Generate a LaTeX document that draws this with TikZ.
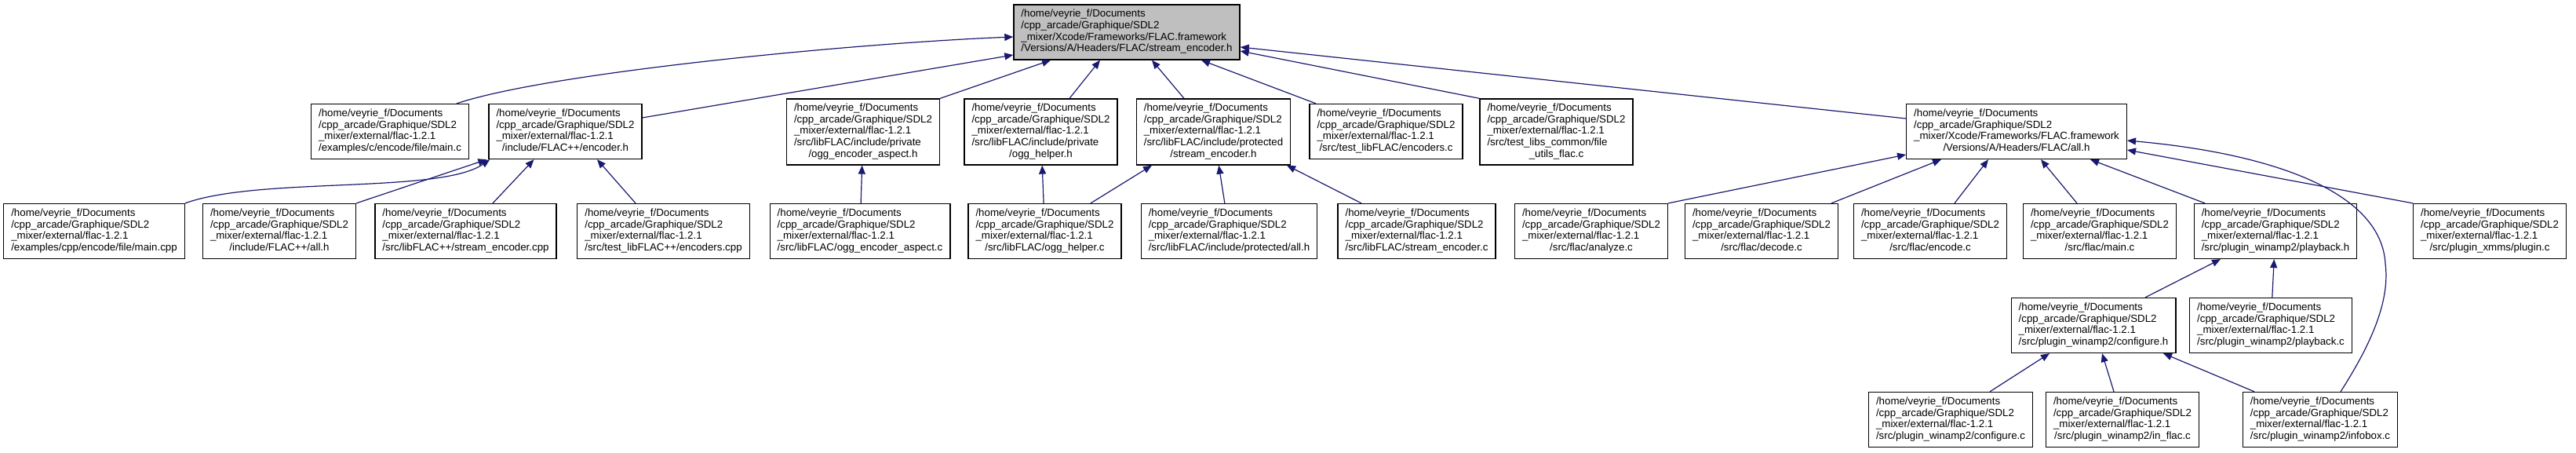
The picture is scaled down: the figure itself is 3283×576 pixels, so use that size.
\documentclass[tikz,border=0pt]{standalone}
\usepackage{fontspec}
\setmainfont{Liberation Sans}
\usetikzlibrary{arrows.meta}
\definecolor{Navy}{HTML}{191970}
\definecolor{Current}{HTML}{BFBFBF}
\newcommand\pathlines[2]{\begin{tabular}{@{}l@{}}/home/veyrie\_f/Documents\\/cpp\_arcade/Graphique/SDL2\\#1\\\multicolumn{1}{@{}c@{}}{#2}\end{tabular}}
\newcommand\flac{\_mixer/external/flac-1.2.1}
\newcommand\xcode{\_mixer/Xcode/Frameworks/FLAC.framework}
\tikzset{
 filebox/.style={draw=black,line width=1.3pt,fill=white,font=\fontsize{13.3}{14.7}\selectfont,inner xsep=9.5pt,inner ysep=0pt,minimum height=70pt},
 filetall/.style={filebox,minimum height=84pt},
 curbox/.style={filebox,fill=Current},
 inc/.style={-{Triangle[length=11pt,width=9pt]},line width=1.2pt,draw=Navy}
}
\begin{document}
\begin{tikzpicture}[x=1pt,y=1pt]
\useasboundingbox (0,0) rectangle (3283,576);
\node[curbox] (main) at (1436,535) {\pathlines{\xcode}{/Versions/A/Headers/FLAC/stream\_encoder.h}};
\node[filebox] (mainc) at (497,408.5) {\pathlines{\flac}{/examples/c/encode/file/main.c}};
\node[filebox] (encoderh) at (720.5,408.5) {\pathlines{\flac}{/include/FLAC++/encoder.h}};
\node[filetall] (oggasph) at (1100,408) {\pathlines{\flac\\/src/libFLAC/include/private}{/ogg\_encoder\_aspect.h}};
\node[filetall] (ogghelperh) at (1326.5,408) {\pathlines{\flac\\/src/libFLAC/include/private}{/ogg\_helper.h}};
\node[filetall] (protench) at (1546.5,408) {\pathlines{\flac\\/src/libFLAC/include/protected}{/stream\_encoder.h}};
\node[filebox] (encodersc) at (1766.5,408.5) {\pathlines{\flac}{/src/test\_libFLAC/encoders.c}};
\node[filetall] (fileutils) at (1983.5,408) {\pathlines{\flac\\/src/test\_libs\_common/file}{\_utils\_flac.c}};
\node[filebox] (allh) at (2570,408.5) {\pathlines{\xcode}{/Versions/A/Headers/FLAC/all.h}};
\foreach \name/\x/\last in {maincpp/120/{/examples/cpp/encode/file/main.cpp},cppallh/356/{/include/FLAC++/all.h},
 cppstreamenc/593.5/{/src/libFLAC++/stream\_encoder.cpp},cppencoders/845.5/{/src/test\_libFLAC++/encoders.cpp},
 oggaspc/1096/{/src/libFLAC/ogg\_encoder\_aspect.c},ogghelperc/1331.5/{/src/libFLAC/ogg\_helper.c},
 protallh/1566.5/{/src/libFLAC/include/protected/all.h},streamencc/1805.5/{/src/libFLAC/stream\_encoder.c},
 analyzec/2028/{/src/flac/analyze.c},decodec/2245/{/src/flac/decode.c},encodec/2460/{/src/flac/encode.c},
 flacmainc/2676/{/src/flac/main.c},playbackh/2900/{/src/plugin\_winamp2/playback.h},pluginc/3173/{/src/plugin\_xmms/plugin.c}}
 \node[filebox] (\name) at (\x,281.5) {\pathlines{\flac}{\last}};
\node[filebox] (configureh) at (2668,161.5) {\pathlines{\flac}{/src/plugin\_winamp2/configure.h}};
\node[filebox] (playbackc) at (2894,161.5) {\pathlines{\flac}{/src/plugin\_winamp2/playback.c}};
\foreach \name/\x/\last in {configurec/2486/{/src/plugin\_winamp2/configure.c},inflacc/2705/{/src/plugin\_winamp2/in\_flac.c},
 infoboxc/2957/{/src/plugin\_winamp2/infobox.c}}
 \node[filebox] (\name) at (\x,41.5) {\pathlines{\flac}{\last}};

\draw[inc] ([xshift=-16pt]mainc.north east) .. controls +(120,40) and +(-200,-8) .. ([yshift=-6pt]main.west);
\draw[inc] ([yshift=17.5pt]encoderh.east) -- ([yshift=-29pt]main.west);
\draw[inc] (oggasph.north east) -- ([xshift=-97pt]main.south);
\draw[inc] ([xshift=36.5pt]ogghelperh.north) -- ([xshift=-34pt]main.south);
\draw[inc] ([xshift=-37.5pt]protench.north) -- ([xshift=32pt]main.south);
\draw[inc] ([xshift=-89.5pt]encodersc.north) -- ([xshift=95pt]main.south);
\draw[inc] (fileutils.north west) -- ([yshift=-24pt]main.east);
\draw[inc] ([yshift=16.5pt]allh.west) -- ([yshift=-19pt]main.east);

\draw[inc] (maincpp.north east) .. controls +(95,34) and +(-64,-44) .. ([xshift=2pt]encoderh.south west);
\draw[inc] (cppallh.north east) -- ([xshift=-2pt]encoderh.south west);
\draw[inc] ([xshift=34.5pt]cppstreamenc.north) -- ([xshift=-40pt]encoderh.south);
\draw[inc] ([xshift=-35.5pt]cppencoders.north) -- ([xshift=40.5pt]encoderh.south);

\foreach \a/\b in {oggaspc/oggasph,ogghelperc/ogghelperh,protallh/protench,playbackc/playbackh,inflacc/configureh}
 \draw[inc] (\a) -- (\b);
\draw[inc] ([xshift=58.5pt]ogghelperc.north) -- ([xshift=-78.5pt]protench.south);
\draw[inc] ([xshift=-70.5pt]streamencc.north) -- ([xshift=93.5pt]protench.south);

\draw[inc] (analyzec.north east) -- ([yshift=-29.5pt]allh.west);
\draw[inc] ([xshift=89pt]decodec.north) -- ([xshift=-96pt]allh.south);
\draw[inc] ([xshift=31pt]encodec.north) -- ([xshift=-36pt]allh.south);
\draw[inc] ([xshift=-29pt]flacmainc.north) -- ([xshift=31pt]allh.south);
\draw[inc] ([xshift=-90pt]playbackh.north) -- ([xshift=94pt]allh.south);
\draw[inc] (pluginc.north west) -- ([yshift=-23.5pt]allh.east);
\draw[inc] ([xshift=26pt]infoboxc.north) .. controls +(47,73) and +(5,-40) .. (3040,240)
 .. controls +(-5,90) and +(190,-17) .. ([yshift=-11.5pt]allh.east);

\draw[inc] ([xshift=66pt]configureh.north) -- ([xshift=-70pt]playbackh.south);
\draw[inc] ([xshift=50pt]configurec.north) -- ([xshift=-56pt]configureh.south);
\draw[inc] ([xshift=-84pt]infoboxc.north) -- ([xshift=89pt]configureh.south);
\end{tikzpicture}
\end{document}
